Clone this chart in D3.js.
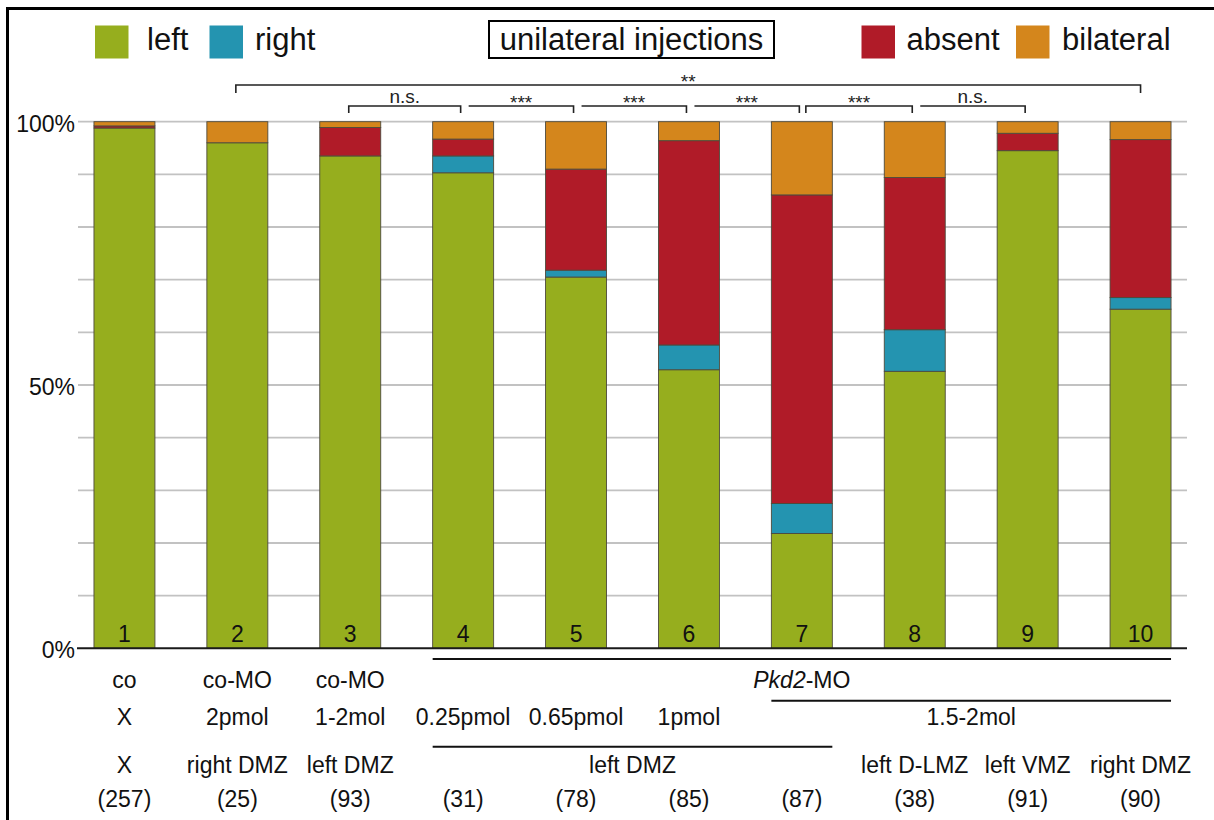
<!DOCTYPE html>
<html>
<head>
<meta charset="utf-8">
<script src="https://cdn.jsdelivr.net/npm/d3@7"></script>
<style>
  html, body { margin: 0; padding: 0; background: #fff; }
  svg { display: block; font-family: "Liberation Sans", Arial, sans-serif; }
</style>
</head>
<body>
<svg id="chart" width="1214" height="820"></svg>
<script>
// ---------- data ----------
const categories = ["1", "2", "3", "4", "5", "6", "7", "8", "9", "10"];
const leftVals      = [98.8, 96.0, 93.5, 90.3, 70.5, 52.9, 21.8, 52.6, 94.5, 64.4];
const rightVals     = [0.0,  0.0,  0.0,  3.2,  1.3,  4.7,  5.7,  7.9,  0.0,  2.2];
const absentVals    = [0.4,  0.0,  5.4,  3.2,  19.2, 38.8, 58.6, 28.9, 3.3,  30.0];
const bilateralVals = [0.8,  4.0,  1.1,  3.3,  9.0,  3.6,  13.9, 10.6, 2.2,  3.4];
const seriesNames = ["left", "right", "absent", "bilateral"];
const seriesColors = ["#96ae1e", "#2494b0", "#b01b28", "#d4861c"];
const yTickLabels = ["0%", "50%", "100%"];
const yTickValues = [0, 50, 100];
const gridValues = [10, 20, 30, 40, 50, 60, 70, 80, 90, 100];
const titleText = "unilateral injections";

const row1 = ["co", "co-MO", "co-MO", "", "", "", "", "", "", ""];
const row2 = ["X", "2pmol", "1-2mol", "0.25pmol", "0.65pmol", "1pmol", "", "", "", ""];
const row3 = ["X", "right DMZ", "left DMZ", "", "", "", "", "left D-LMZ", "left VMZ", "right DMZ"];
const counts = ["(257)", "(25)", "(93)", "(31)", "(78)", "(85)", "(87)", "(38)", "(91)", "(90)"];
// spanning group labels
const groups = [
  { from: "4", to: "10", label: "Pkd2-MO", row: 1, line: 0 },
  { from: "7", to: "10", label: "1.5-2mol", row: 2, line: 1 },
  { from: "4", to: "7",  label: "left DMZ", row: 3, line: 2 }
];
// significance brackets
const brackets = [
  { from: "2", to: "10", label: "**",   level: 0, leftTick: true },
  { from: "3", to: "4",  label: "n.s.", level: 1, leftTick: true },
  { from: "4", to: "5",  label: "***",  level: 1, leftTick: false },
  { from: "5", to: "6",  label: "***",  level: 1, leftTick: false },
  { from: "6", to: "7",  label: "***",  level: 1, leftTick: false },
  { from: "7", to: "8",  label: "***",  level: 1, leftTick: true },
  { from: "8", to: "9",  label: "n.s.", level: 1, leftTick: false }
];

// ---------- layout ----------
const svg = d3.select("#chart");
const W = 1214, H = 820;

const x = d3.scaleBand().domain(categories).range([68, 1197]).paddingInner(0.46).paddingOuter(0.23);
const y = d3.scaleLinear().domain([0, 100]).range([648.3, 121.7]);
const cx = c => x(c) + x.bandwidth() / 2;

// frame (top + left)
svg.append("line").attr("x1", 6).attr("x2", W).attr("y1", 8.5).attr("y2", 8.5)
  .attr("stroke", "#000").attr("stroke-width", 3);
svg.append("line").attr("x1", 7.5).attr("x2", 7.5).attr("y1", 7).attr("y2", H)
  .attr("stroke", "#000").attr("stroke-width", 3);

// gridlines
svg.append("g").selectAll("line").data(gridValues).join("line")
  .attr("x1", 78).attr("x2", 1187)
  .attr("y1", d => y(d)).attr("y2", d => y(d))
  .attr("stroke", "#c2c2c2").attr("stroke-width", 1.8);

// y labels
svg.append("g").selectAll("text").data(yTickValues).join("text")
  .attr("x", 75).attr("y", d => y(d) + 10)
  .attr("text-anchor", "end").attr("font-size", 23).attr("fill", "#111")
  .text((d, i) => yTickLabels[i]);

// stacked bars
const table = categories.map((c, i) => ({
  cat: c, left: leftVals[i], right: rightVals[i], absent: absentVals[i], bilateral: bilateralVals[i]
}));
const stack = d3.stack().keys(seriesNames)(table);
const color = d3.scaleOrdinal().domain(seriesNames).range(seriesColors);

svg.append("g").selectAll("g").data(stack).join("g")
  .attr("fill", d => color(d.key))
  .selectAll("rect").data(d => d.filter(p => p[1] - p[0] > 0)).join("rect")
  .attr("x", d => x(d.data.cat))
  .attr("width", x.bandwidth())
  .attr("y", d => y(d[1]))
  .attr("height", d => y(d[0]) - y(d[1]))
  .attr("stroke", "#4d4a3c").attr("stroke-width", 0.9);

// axis baseline
svg.append("line").attr("x1", 77).attr("x2", 1187).attr("y1", y(0)).attr("y2", y(0))
  .attr("stroke", "#1a1a1a").attr("stroke-width", 2);

// bar numbers
svg.append("g").selectAll("text").data(categories).join("text")
  .attr("x", d => cx(d)).attr("y", 642)
  .attr("text-anchor", "middle").attr("font-size", 23).attr("fill", "#111")
  .text(d => d);

// legend
const legendX = [95, 209.5, 861.5, 1016];
const legendTX = [147, 255, 906.5, 1062];
const lg = svg.append("g");
seriesNames.forEach((s, i) => {
  lg.append("rect").attr("x", legendX[i]).attr("y", 25.5).attr("width", 33.5).attr("height", 33)
    .attr("fill", color(s));
  lg.append("text").attr("x", legendTX[i]).attr("y", 50).attr("font-size", 31).attr("fill", "#111")
    .text(s);
});
// title box
lg.append("rect").attr("x", 489).attr("y", 21).attr("width", 285).attr("height", 37)
  .attr("fill", "none").attr("stroke", "#000").attr("stroke-width", 2);
lg.append("text").attr("x", 631.5).attr("y", 50).attr("text-anchor", "middle")
  .attr("font-size", 31).attr("fill", "#111").text(titleText);

// brackets
const levelY = [85, 106];
const tickLen = [8, 7];
const bg = svg.append("g").attr("fill", "none").attr("stroke", "#222").attr("stroke-width", 1.6);
brackets.forEach((b, i) => {
  // a left tick directly after another bracket's end tick is shifted right to keep a gap
  const prev = brackets[i - 1];
  const touching = prev && prev.level === b.level && prev.to === b.from;
  const x1 = b.leftTick ? cx(b.from) + (touching ? 4 : -1.5) : cx(b.from) + 5.5;
  const x2 = cx(b.to) - (b.level === 1 ? 2.5 : 0);
  const yy = levelY[b.level], t = tickLen[b.level];
  const path = b.leftTick
    ? `M${x1},${yy + t}V${yy}H${x2}V${yy + t}`
    : `M${x1},${yy}H${x2}V${yy + t}`;
  bg.append("path").attr("d", path);
  const isStar = b.label.indexOf("*") >= 0;
  svg.append("text").attr("x", (x1 + x2) / 2)
    .attr("y", isStar ? yy + 3 : yy - 3)
    .attr("text-anchor", "middle").attr("font-size", 19).attr("fill", "#222")
    .text(b.label);
});

// category label rows
const rowY = [688, 725, 773, 806.5];
const rows = [row1, row2, row3, counts];
rows.forEach((r, ri) => {
  svg.append("g").selectAll("text").data(categories.filter((c, i) => r[i] !== "")).join("text")
    .attr("x", d => cx(d)).attr("y", rowY[ri])
    .attr("text-anchor", "middle").attr("font-size", 23).attr("fill", "#111")
    .text(d => r[categories.indexOf(d)]);
});

// group spans
const lineY = [659, 700.7, 746.7];
groups.forEach(g => {
  const x1 = x(g.from), x2 = x(g.to) + x.bandwidth();
  svg.append("line").attr("x1", x1).attr("x2", x2).attr("y1", lineY[g.line]).attr("y2", lineY[g.line])
    .attr("stroke", "#111").attr("stroke-width", 2);
  const mx = g.label === "Pkd2-MO" ? cx("7") : (cx(g.from) + cx(g.to)) / 2;
  const t = svg.append("text").attr("x", mx).attr("y", rowY[g.row - 1])
    .attr("text-anchor", "middle").attr("font-size", 23).attr("fill", "#111");
  if (g.label === "Pkd2-MO") {
    t.append("tspan").attr("font-style", "italic").text("Pkd2");
    t.append("tspan").text("-MO");
  } else {
    t.text(g.label);
  }
});
</script>
</body>
</html>
